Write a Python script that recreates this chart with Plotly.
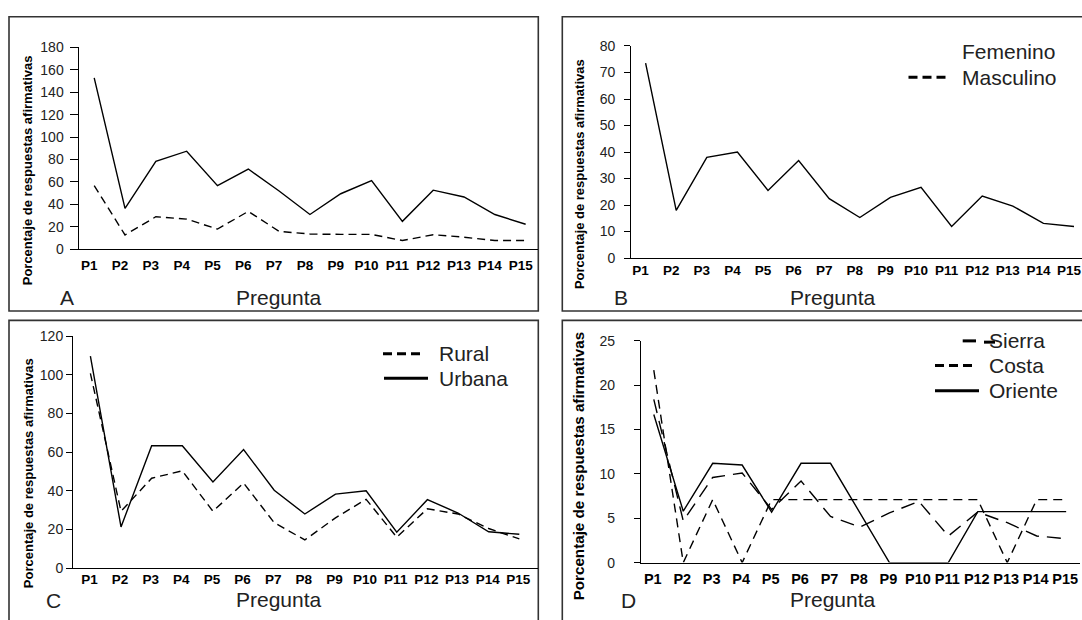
import plotly.graph_objects as go

W, H = 1082, 620

# ---------------- data ----------------
preguntas = ["P1", "P2", "P3", "P4", "P5", "P6", "P7", "P8", "P9", "P10",
             "P11", "P12", "P13", "P14", "P15"]

# Panel A
a_continua = [152.7, 36.4, 78.4, 87.4, 56.7, 71.5, 52, 31, 49.5, 61.3, 24.9, 52.7, 46.6, 31, 22.3]
a_discontinua = [56.7, 12.8, 29, 26.9, 18, 33.8, 16, 13.6, 13.3, 13.3, 7.8, 13, 10.8, 7.8, 7.8]

# Panel B
b_femenino = [73.5, 18, 38, 40, 25.5, 36.8, 22.4, 15.3, 22.9, 26.7, 11.9, 23.4, 19.6, 13.1, 11.9]

# Panel C
c_rural = [100.7, 29.4, 46.5, 50.3, 29.4, 44, 23.5, 14.6, 26, 35.6, 16, 30.7, 28, 20.5, 15.1]
c_urbana = [109.6, 21.3, 63.3, 63.3, 44.5, 61.3, 40.3, 28, 38.3, 40, 18.6, 35.4, 28.5, 18.8, 17.5]

# Panel D
d_sierra = [18.4, 4.7, 9.6, 10.1, 6.0, 9.2, 5.2, 4.0, 5.6, 6.9, 3.0, 5.7, 4.5, 3.0, 2.7]
d_costa = [21.7, 0, 7.1, 0, 7.1, 7.1, 7.1, 7.1, 7.1, 7.1, 7.1, 7.1, 0, 7.1, 7.1]
d_oriente = [16.7, 5.8, 11.2, 11.0, 5.7, 11.2, 11.2, 5.6, 0, 0, 0, 5.75, 5.75, 5.75, 5.75]

y_title = "Porcentaje de respuestas afirmativas"
x_title = "Pregunta"

# ---------------- helpers ----------------
def px(x):
    return x / W

def py(y):
    return 1 - y / H

SANS = "Liberation Sans, Arial, sans-serif"

fig = go.Figure()

def line(xa, ya, y, dash=None, name=""):
    fig.add_trace(go.Scatter(
        x=preguntas, y=y, mode="lines", name=name, showlegend=False,
        xaxis=xa, yaxis=ya,
        line=dict(color="black", width=1.4, dash=dash),
    ))

line("x", "y", a_continua)
line("x", "y", a_discontinua, dash="8px,5px")
line("x2", "y2", b_femenino, name="Femenino")
line("x3", "y3", c_rural, dash="8px,5px", name="Rural")
line("x3", "y3", c_urbana, name="Urbana")
line("x4", "y4", d_sierra, dash="14px,8px", name="Sierra")
line("x4", "y4", d_costa, dash="9px,6px", name="Costa")
line("x4", "y4", d_oriente, name="Oriente")

# ---------------- axes ----------------
panels = {
    # name: (x0, x1, ytop, ybottom, xrange, yrange, dtick, ticklen, ystandoff, xfont, xstandoff, xshift)
    "1": (78.7, 538.3, 40.3, 247.7, [-0.503, 14.41], [0, 180], 20, 8, 3, 13.5, 3, -5),
    "2": (631.4, 1082, 39, 256.7, [-0.464, 14.26], [0, 80], 10, 6, 6, 13.5, 0, -5),
    "3": (73.2, 538.3, 336.7, 575, [-0.561, 14.62], [0, 120], 20, 6, 0, 13.5, -2, -1),
    "4": (641.1, 1080, 341.7, 569.3, [-0.431, 14.47], [0, 25], 5, 6, 16, 14.5, 3, -1),
}

layout = {}
for k, (x0, x1, yt, yb, xr, yr, dt, tl, ys, xf, xs, xsh) in panels.items():
    sx = "xaxis" if k == "1" else "xaxis" + k
    sy = "yaxis" if k == "1" else "yaxis" + k
    anchor_x = "y" if k == "1" else "y" + k
    anchor_y = "x" if k == "1" else "x" + k
    layout[sx] = dict(
        domain=[px(x0), min(px(x1), 1)], anchor=anchor_x, type="category",
        range=xr, showline=True, linecolor="black", linewidth=1.4,
        ticks="", showgrid=False, zeroline=False, tickangle=0,
        tickfont=dict(family=SANS, size=xf, color="black", weight="bold"),
        ticklabelstandoff=xs, ticklabelshift=xsh, fixedrange=True,
    )
    layout[sy] = dict(
        domain=[py(yb), py(yt)], anchor=anchor_y,
        range=yr, dtick=dt, tick0=0, showline=True, linecolor="black", linewidth=1.4,
        ticks="outside", ticklen=tl, tickwidth=1.2, tickcolor="black",
        showgrid=False, zeroline=False,
        tickfont=dict(family=SANS, size=14, color="#222"),
        ticklabelstandoff=ys, fixedrange=True,
    )

# ---------------- frames ----------------
shapes = []
frame = dict(type="rect", xref="paper", yref="paper",
             line=dict(color="#333333", width=1.6), fillcolor="rgba(0,0,0,0)", layer="below")
for (x0, x1, y0, y1) in [(9, 538.3, 9, 311), (562.3, 1100, 9, 311),
                         (9, 538.3, 320.7, 640), (562.3, 1100, 320.7, 640)]:
    s = dict(frame)
    s.update(x0=px(x0), x1=px(x1), y0=py(y1), y1=py(y0))
    shapes.append(s)

def sample(x0, x1, y, dash=None, width=3):
    shapes.append(dict(type="line", xref="paper", yref="paper",
                       x0=px(x0), x1=px(x1), y0=py(y), y1=py(y),
                       line=dict(color="black", width=width, dash=dash)))

# legend samples
sample(908.5, 946.5, 71, dash="9px,5px")          # Masculino
sample(383, 423, 355, dash="9px,5px")             # Rural
sample(384, 428, 380)                              # Urbana
sample(962.7, 976, 341.7)                          # Sierra
sample(984, 995, 343)                              # Sierra (overlap)
sample(935, 974, 367, dash="9px,5px")             # Costa
sample(935, 979, 393)                              # Oriente

# ---------------- annotations ----------------
ann = []

def text(x, y, t, size=21, xanchor="center", angle=0, bold=False, color="#222"):
    ann.append(dict(x=px(x), y=py(y), xref="paper", yref="paper", text=t,
                    showarrow=False, xanchor=xanchor, yanchor="middle",
                    textangle=angle,
                    font=dict(family=SANS, size=size, color=color,
                              weight="bold" if bold else "normal")))

# panel letters and x titles
text(67.3, 297, "A"); text(278.8, 296.7, x_title)
text(621, 297, "B"); text(832.6, 296.7, x_title)
text(53.5, 607.7, "C"); text(278.8, 606.7, x_title)
text(628.5, 607.7, "D"); text(832.6, 606.7, x_title)

# y titles
text(27.6, 167, y_title, size=13, angle=-90, bold=True, color="black")
text(579, 170.5, y_title, size=13, angle=-90, bold=True, color="black")
text(28.5, 478, y_title, size=13, angle=-90, bold=True, color="black")
text(578.5, 471, y_title, size=15.2, angle=-90, bold=True, color="black")

# legend texts
text(959.6, 45, "Femenino", xanchor="left")
text(959.6, 71, "Masculino", xanchor="left")
text(436.5, 355, "Rural", xanchor="left")
text(436.5, 380, "Urbana", xanchor="left")
text(986.7, 341.7, "Sierra", xanchor="left")
text(986.7, 367, "Costa", xanchor="left")
text(986.7, 393, "Oriente", xanchor="left")

fig.update_layout(
    width=W, height=H, margin=dict(l=0, r=0, t=0, b=0),
    paper_bgcolor="white", plot_bgcolor="rgba(0,0,0,0)",
    showlegend=False, shapes=shapes, annotations=ann,
    **layout,
)

fig.write_html(
    "out.html",
    config={"displayModeBar": False},
    post_script="document.body.style.margin='0';document.body.style.overflow='hidden';",
)
